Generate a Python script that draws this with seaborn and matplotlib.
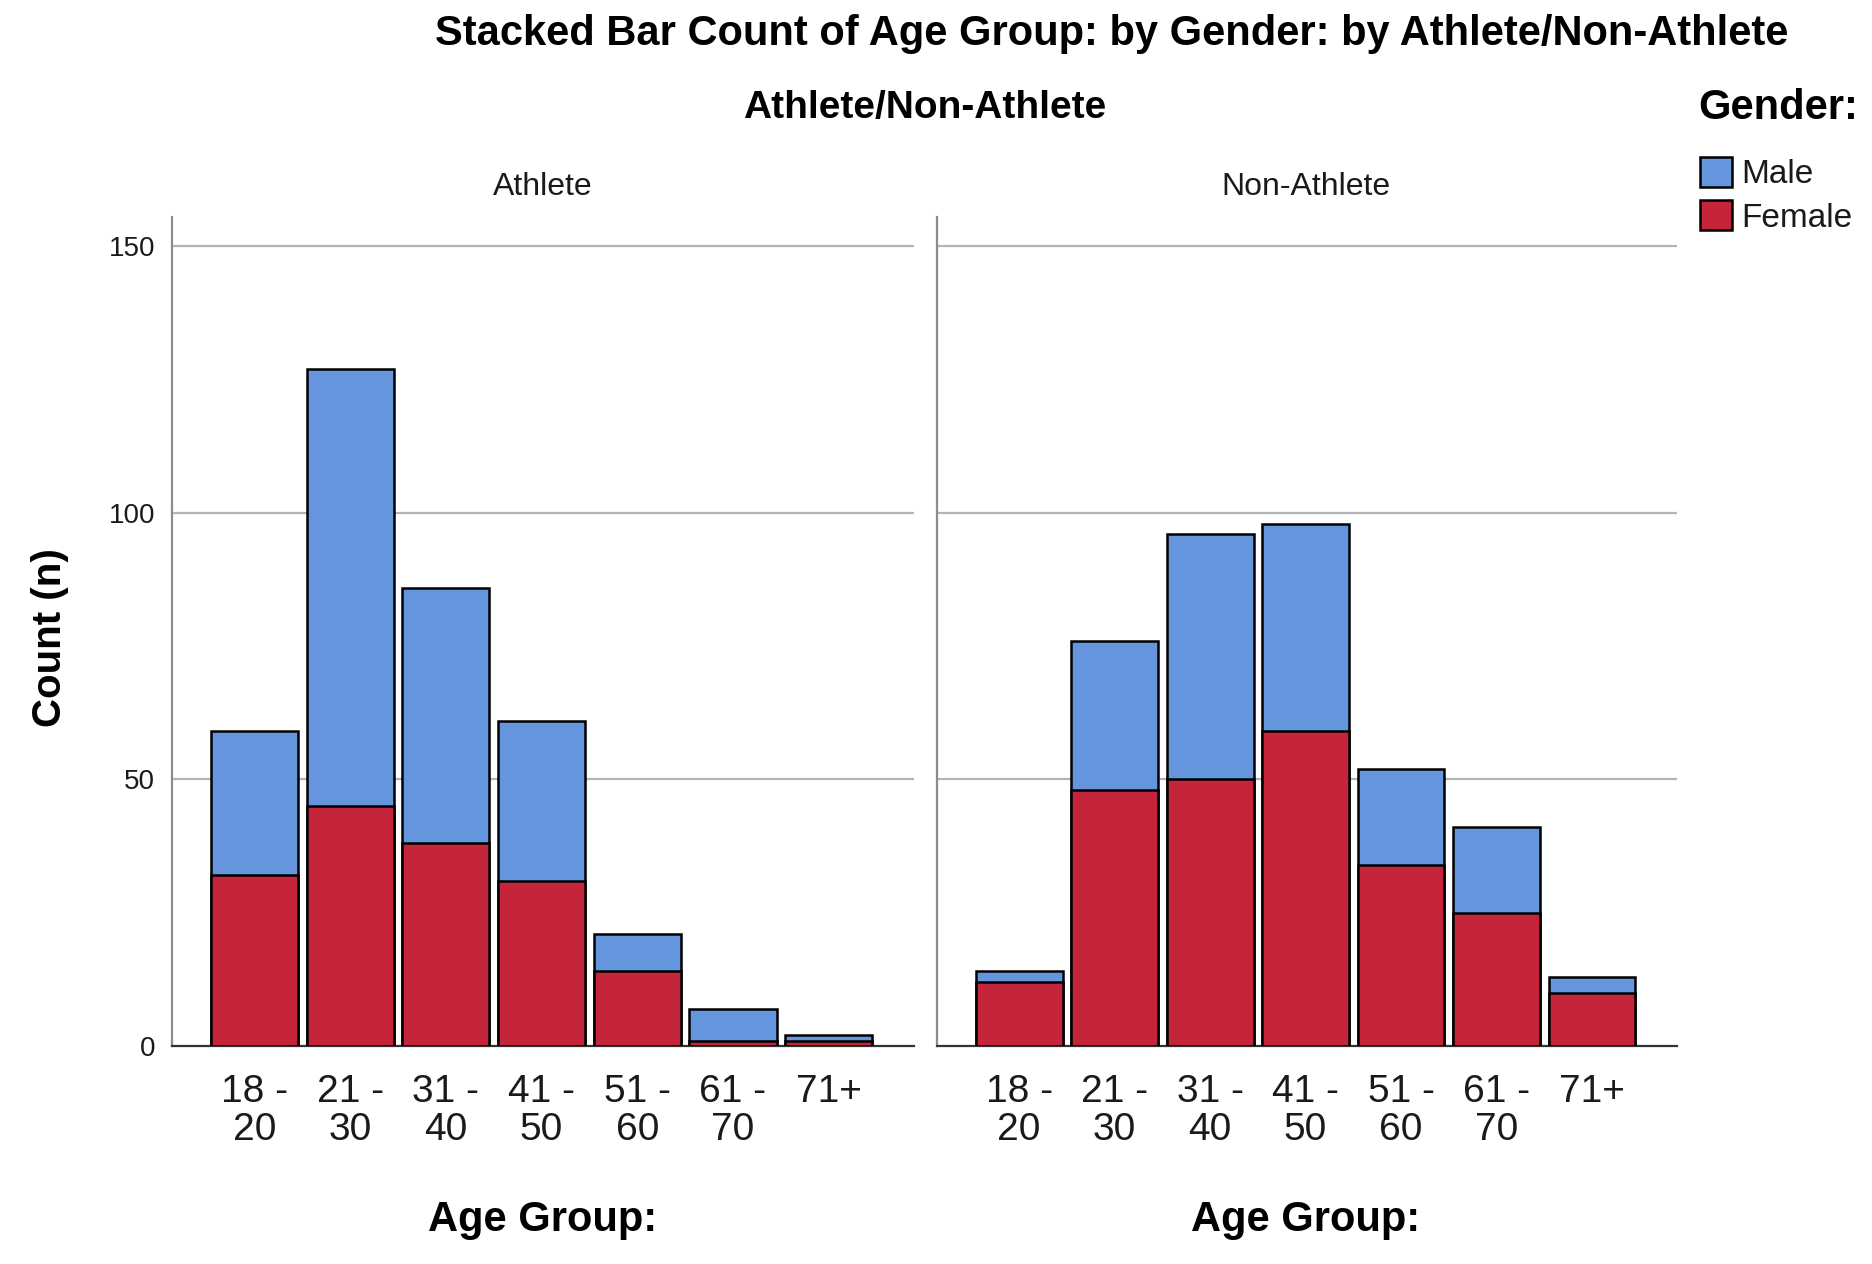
import pandas as pd
import matplotlib.pyplot as plt
import seaborn as sns
from matplotlib.patches import Patch

# data
age_groups = ["18 -\n20", "21 -\n30", "31 -\n40", "41 -\n50", "51 -\n60", "61 -\n70", "71+"]
athlete_female = [32, 45, 38, 31, 14, 1, 1]
athlete_male = [27, 82, 48, 30, 7, 6, 1]
nonathlete_female = [12, 48, 50, 59, 34, 25, 10]
nonathlete_male = [2, 28, 46, 39, 18, 16, 3]

MALE_COLOR = "#6495DD"
FEMALE_COLOR = "#C4253A"

rows = []
for grp, fem, mal in [("Athlete", athlete_female, athlete_male),
                      ("Non-Athlete", nonathlete_female, nonathlete_male)]:
    for age, f, m in zip(age_groups, fem, mal):
        rows.append({"group": grp, "age": age, "female": f, "male": m, "total": f + m})
df = pd.DataFrame(rows)

sns.set_style("white")
plt.rcParams['font.family'] = ['Liberation Sans', 'DejaVu Sans']
plt.rcParams['text.color'] = 'black'

fig = plt.figure(figsize=(18.72, 12.64), dpi=100)
W, H = 1872, 1264
ax_bottom = 1 - 1046 / H
ax_height = (1046 - 217) / H
ax1 = fig.add_axes([172 / W, ax_bottom, (914 - 172) / W, ax_height])
ax2 = fig.add_axes([937 / W, ax_bottom, (1677 - 937) / W, ax_height])

for ax, grp in [(ax1, "Athlete"), (ax2, "Non-Athlete")]:
    sub = df[df["group"] == grp]
    # stacked: total drawn in male colour, female drawn over it
    sns.barplot(data=sub, x="age", y="total", color=MALE_COLOR, saturation=1,
                width=0.91, edgecolor="black", linewidth=1.8, ax=ax, zorder=3)
    sns.barplot(data=sub, x="age", y="female", color=FEMALE_COLOR, saturation=1,
                width=0.91, edgecolor="black", linewidth=1.8, ax=ax, zorder=4)
    ax.set_xlim(-0.86, 6.89)
    ax.set_ylim(0, 155.5)
    ax.set_yticks([0, 50, 100, 150])
    for y in [50, 100, 150]:
        ax.axhline(y, color="#b4b4b4", lw=1.6, zorder=1)
    ax.set_xlabel("")
    ax.set_ylabel("")
    ax.tick_params(axis="x", length=0, pad=20, labelsize=28, labelcolor="#1a1a1a")
    ax.tick_params(axis="y", length=0, pad=12, labelsize=20, labelcolor="#1a1a1a")
    for lbl in ax.get_xticklabels():
        lbl.set_linespacing(1.08)
    for side in ["top", "right"]:
        ax.spines[side].set_visible(False)
    ax.spines["left"].set_color("#8c8c8c")
    ax.spines["left"].set_linewidth(1.6)
    ax.spines["bottom"].set_color("#333333")
    ax.spines["bottom"].set_linewidth(1.6)

ax2.set_yticklabels([])

# titles and labels
fig.text(1112 / W, 1 - 34 / H, "Stacked Bar Count of Age Group: by Gender: by Athlete/Non-Athlete",
         ha="center", va="center", fontsize=30, fontweight="bold")
fig.text(925 / W, 1 - 108 / H, "Athlete/Non-Athlete", ha="center", va="center",
         fontsize=28, fontweight="bold")
fig.text(543 / W, 1 - 187 / H, "Athlete", ha="center", va="center", fontsize=23, color="#1a1a1a")
fig.text(1306 / W, 1 - 187 / H, "Non-Athlete", ha="center", va="center", fontsize=23, color="#1a1a1a")
fig.text(543 / W, 1 - 1220 / H, "Age Group:", ha="center", va="center", fontsize=30, fontweight="bold")
fig.text(1306 / W, 1 - 1220 / H, "Age Group:", ha="center", va="center", fontsize=30, fontweight="bold")
fig.text(50 / W, 1 - 638 / H, "Count (n)", ha="center", va="center", rotation=90,
         fontsize=29, fontweight="bold")

# legend
fig.text(1698 / W, 1 - 108 / H, "Gender:", ha="left", va="center", fontsize=30, fontweight="bold")
handles = [Patch(facecolor=MALE_COLOR, edgecolor="black", linewidth=1.8, label="Male"),
           Patch(facecolor=FEMALE_COLOR, edgecolor="black", linewidth=1.8, label="Female")]
leg = fig.legend(handles=handles, loc="upper left",
                 bbox_to_anchor=(1700 / W, 1 - 157 / H), frameon=False,
                 fontsize=24, handlelength=0.95, handleheight=1.0,
                 handletextpad=0.3, labelspacing=0.3, borderpad=0, borderaxespad=0)
for t in leg.get_texts():
    t.set_color("#1a1a1a")

plt.savefig("out.png", dpi=100)
